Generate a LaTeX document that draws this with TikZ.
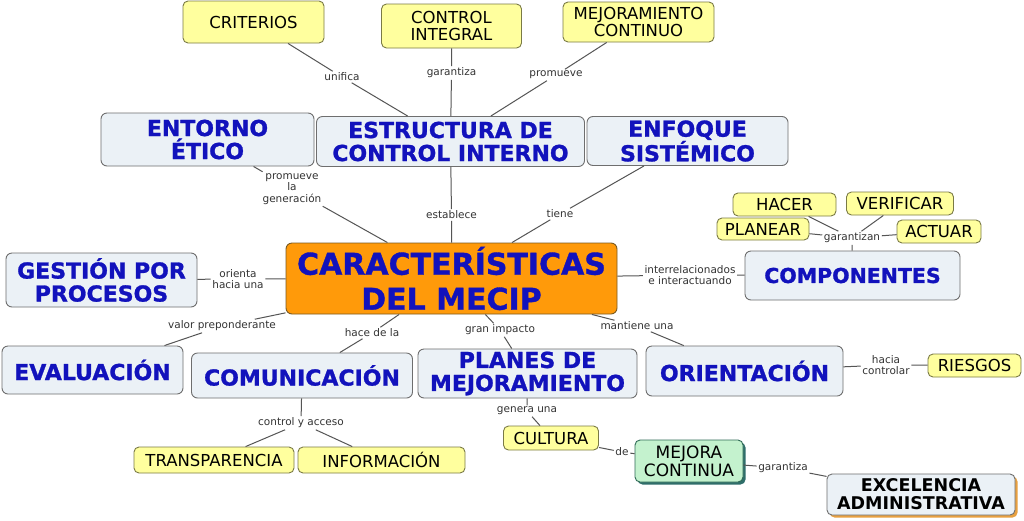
\documentclass[tikz,border=0pt]{standalone}
\usepackage{fontspec}
\setmainfont{DejaVu Sans}
\newfontfamily\heavyfont[FakeBold=1.2]{DejaVu Sans Bold}
\usetikzlibrary{shadows}
\definecolor{ylfill}{HTML}{FFFF9E}
\definecolor{ylline}{HTML}{7A7A45}
\definecolor{bxfill}{HTML}{EBF1F6}
\definecolor{bxline}{HTML}{6E6E6E}
\definecolor{bltext}{HTML}{1212BC}
\definecolor{orfill}{HTML}{FF9A0A}
\definecolor{orline}{HTML}{7A5A20}
\definecolor{grfill}{HTML}{C4F2CE}
\definecolor{grline}{HTML}{2E6A55}
\definecolor{grshadow}{HTML}{2F6E6A}
\definecolor{exshadow}{HTML}{E8A040}
\definecolor{lbtext}{HTML}{333333}
\definecolor{conn}{HTML}{555555}
\tikzset{
  base/.style={inner sep=0pt, align=center, rounded corners=5pt, line width=0.9pt},
  ylbox/.style={base, fill=ylfill, draw=ylline, text=black, font=\fontsize{16.5}{17}\selectfont},
  bxbox/.style={base, rounded corners=6pt, fill=bxfill, draw=bxline, text=bltext, font=\fontsize{22}{23}\heavyfont},
  orbox/.style={base, rounded corners=6pt, fill=orfill, draw=orline, text=bltext, font=\fontsize{30}{35}\heavyfont},
  grbox/.style={base, fill=grfill, draw=grline, text=black, font=\fontsize{17}{18}\selectfont,
     general shadow={fill=grshadow, shadow xshift=2.5pt, shadow yshift=-2.5pt}},
  exbox/.style={base, fill=bxfill, draw=bxline, text=black, font=\fontsize{17.5}{18}\selectfont\bfseries,
     general shadow={fill=exshadow, shadow xshift=2.5pt, shadow yshift=-2.5pt}},
  lbl/.style={inner sep=1.5pt, fill=white, text=lbtext, align=center, font=\fontsize{10.5}{11.5}\selectfont},
  cn/.style={draw=conn, line width=1pt},
}
\begin{document}
\begin{tikzpicture}[x=1pt,y=-1pt]
\path[use as bounding box, fill=white] (0,0) rectangle (1024,520);
% top yellow
\node[ylbox, minimum width=141, minimum height=42] (crit) at (253.5,22) {CRITERIOS};
\node[ylbox, minimum width=140, minimum height=44] (ctrl) at (451.5,26) {CONTROL\\INTEGRAL};
\node[ylbox, minimum width=151, minimum height=40] (mejc) at (638.5,22) {MEJORAMIENTO\\CONTINUO};
% second row
\node[bxbox, minimum width=213, minimum height=53] (ent) at (207.5,139.5) {ENTORNO\\ÉTICO};
\node[bxbox, minimum width=268, minimum height=50] (estr) at (450.5,141.5) {ESTRUCTURA DE\\CONTROL INTERNO};
\node[bxbox, minimum width=201, minimum height=49] (enf) at (687.5,141) {ENFOQUE\\SISTÉMICO};
% center
\node[orbox, minimum width=331, minimum height=71] (car) at (451.5,278.5) {CARACTERÍSTICAS\\DEL MECIP};
\node[bxbox, minimum width=191, minimum height=54] (ges) at (101.5,280) {GESTIÓN POR\\PROCESOS};
\node[bxbox, minimum width=215, minimum height=49, font=\fontsize{20.5}{22}\heavyfont] (comp) at (852.5,275.5) {COMPONENTES};
% PHVA
\node[ylbox, minimum width=103, minimum height=23] (hacer) at (784.5,204.5) {HACER};
\node[ylbox, minimum width=107, minimum height=23] (verif) at (900,203.5) {VERIFICAR};
\node[ylbox, minimum width=92, minimum height=22] (plan) at (763,229) {PLANEAR};
\node[ylbox, minimum width=84, minimum height=23] (act) at (939,231.5) {ACTUAR};
% lower row
\node[bxbox, minimum width=181, minimum height=48] (eval) at (92.5,370) {EVALUACIÓN};
\node[bxbox, minimum width=221, minimum height=45] (comm) at (302,375.5) {COMUNICACIÓN};
\node[bxbox, minimum width=219, minimum height=49] (plm) at (527.5,373.5) {PLANES DE\\MEJORAMIENTO};
\node[bxbox, minimum width=197, minimum height=50] (ori) at (744.5,371) {ORIENTACIÓN};
\node[ylbox, minimum width=93, minimum height=23] (ries) at (974.5,365.5) {RIESGOS};
% bottom
\node[ylbox, minimum width=160, minimum height=26] (trans) at (214,460) {TRANSPARENCIA};
\node[ylbox, minimum width=167, minimum height=26] (info) at (381.5,460) {INFORMACIÓN};
\node[ylbox, minimum width=95, minimum height=24] (cult) at (551,438) {CULTURA};
\node[grbox, minimum width=108, minimum height=42] (mej) at (689,461) {MEJORA\\CONTINUA};
\node[exbox, minimum width=188, minimum height=41] (exc) at (921,494.5) {EXCELENCIA\\ADMINISTRATIVA};
% labels
\node[lbl] (l1) at (342,77) {unifica};
\node[lbl] (l2) at (451.5,73) {garantiza};
\node[lbl] (l3) at (556,75) {promueve};
\node[lbl] (l4) at (292,189) {promueve\\la\\generación};
\node[lbl] (l5) at (451.5,215) {establece};
\node[lbl] (l6) at (560,214) {tiene};
\node[lbl] (l7) at (690,275) {interrelacionados\\e interactuando};
\node[lbl] (l8) at (852,238) {garantizan};
\node[lbl] (l9) at (238,279) {orienta\\hacia una};
\node[lbl] (l10) at (222,326) {valor preponderante};
\node[lbl] (l11) at (372,333) {hace de la};
\node[lbl] (l12) at (500,330) {gran impacto};
\node[lbl] (l13) at (637,326) {mantiene una};
\node[lbl] (l14) at (886,365) {hacia\\controlar};
\node[lbl] (l15) at (301,423) {control y acceso};
\node[lbl] (l16) at (527,411) {genera una};
\node[lbl] (l17) at (622,452) {de};
\node[lbl] (l18) at (783,468) {garantiza};
% connectors
\draw[cn] (crit) -- (l1) -- (estr);
\draw[cn] (ctrl) -- (l2) -- (estr);
\draw[cn] (mejc) -- (l3) -- (estr);
\draw[cn] (ent) -- (l4) -- (car);
\draw[cn] (estr) -- (l5) -- (car);
\draw[cn] (enf) -- (l6) -- (car);
\draw[cn] (car) -- (l7) -- (comp);
\draw[cn] (hacer) -- (l8);
\draw[cn] (verif) -- (l8);
\draw[cn] (plan) -- (l8);
\draw[cn] (act) -- (l8);
\draw[cn] (l8) -- (comp);
\draw[cn] (ges) -- (l9) -- (car);
\draw[cn] (car) -- (l10) -- (eval);
\draw[cn] (car) -- (l11) -- (comm);
\draw[cn] (car) -- (l12) -- (plm);
\draw[cn] (car) -- (l13) -- (ori);
\draw[cn] (ori) -- (l14) -- (ries);
\draw[cn] (comm) -- (l15);
\draw[cn] (l15) -- (trans);
\draw[cn] (l15) -- (info);
\draw[cn] (plm) -- (l16) -- (cult);
\draw[cn] (cult) -- (l17) -- (mej);
\draw[cn] (mej) -- (l18) -- (exc);
\end{tikzpicture}
\end{document}
